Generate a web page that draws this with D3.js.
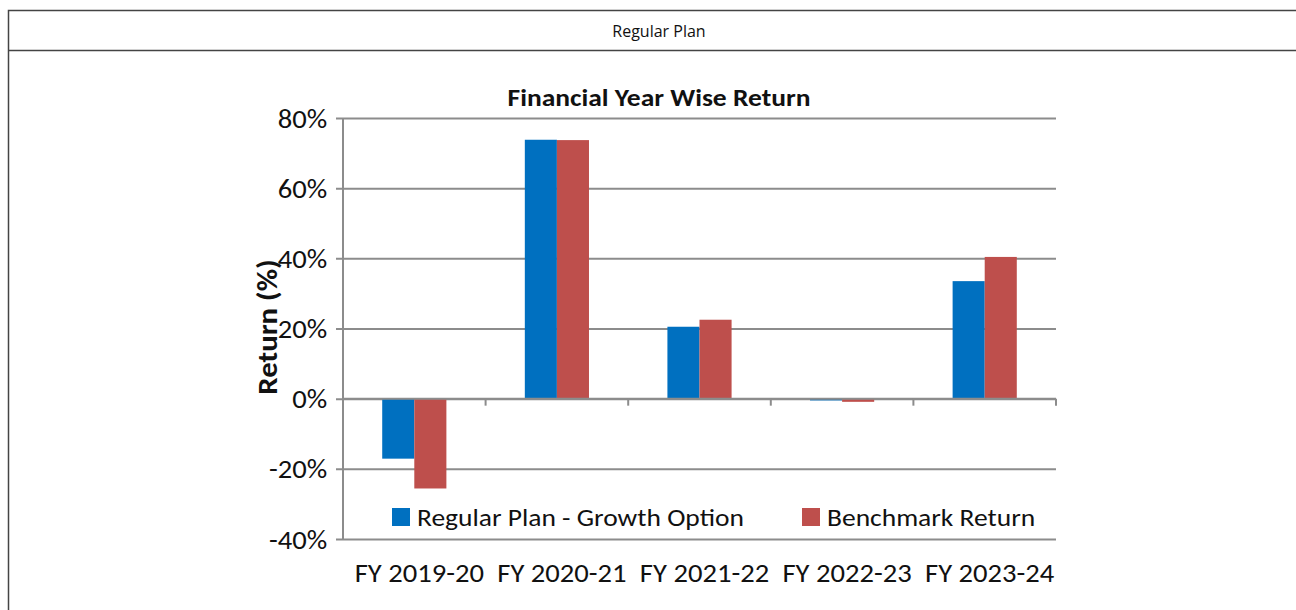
<!DOCTYPE html>
<html>
<head>
<meta charset="utf-8">
<script src="https://cdn.jsdelivr.net/npm/d3@7"></script>
<style>
	body { margin: 0; background: #fff; }
	text { font-family: Carlito, Lato, sans-serif; fill: #111; }
</style>
</head>
<body>
<div id="chart"></div>
<script>
// data
const categories = ['FY 2019-20', 'FY 2020-21', 'FY 2021-22', 'FY 2022-23', 'FY 2023-24'];
const seriesNames = ['Regular Plan - Growth Option', 'Benchmark Return'];
const planReturn = [-17.1, 73.8, 20.5, -0.5, 33.5];
const benchReturn = [-25.6, 73.7, 22.5, -0.9, 40.4];
const yTicks = [-40, -20, 0, 20, 40, 60, 80];

const colors = ['#0070c0', '#be4f4c'];
const width = 1296, height = 610;
const plot = {left: 343, right: 1056, top: 118, bottom: 539};
const sx = 1.1; // the original text is a bit wider than Lato

const svg = d3.select('#chart').append('svg')
	.attr('width', width)
	.attr('height', height);

// table-like frame around the chart
svg.append('path')
	.attr('d', `M8.5,${height} V10.5 H${width}`)
	.style('fill', 'none').style('stroke', '#444').style('stroke-width', 1.5);
svg.append('line')
	.attr('x1', 8).attr('x2', width).attr('y1', 50.5).attr('y2', 50.5)
	.style('stroke', '#444').style('stroke-width', 1.5);
svg.append('text')
	.attr('x', 659).attr('y', 37)
	.attr('text-anchor', 'middle')
	.style('font-family', '"Open Sans", sans-serif')
	.style('font-size', '16px')
	.text('Regular Plan');

const x0 = d3.scaleBand().domain(categories)
	.range([plot.left, plot.right])
	.paddingInner(0.55).paddingOuter(0.275);
const x1 = d3.scaleBand().domain(seriesNames).range([0, x0.bandwidth()]);
const y = d3.scaleLinear().domain([-40, 80]).range([plot.bottom, plot.top]);

// gridlines + y axis labels
const yAxis = d3.axisLeft(y).tickValues(yTicks).tickFormat(d => d + '%')
	.tickSize(-(plot.right - plot.left) - 7).tickPadding(6);
const gy = svg.append('g')
	.attr('transform', `translate(${plot.left - 7},0)`)
	.call(yAxis);
gy.select('.domain').remove();
gy.selectAll('.tick line').style('stroke', '#8c8c8c').style('stroke-width', 2);
gy.selectAll('.tick text')
	.style('font-size', '26px').style('fill', '#111')
	.attr('x', -8).attr('dy', '0.35em')
	.attr('transform', `scale(${sx},1)`);

svg.append('line')
	.attr('x1', plot.left).attr('x2', plot.left)
	.attr('y1', plot.top).attr('y2', plot.bottom + 1)
	.style('stroke', '#8c8c8c').style('stroke-width', 2);

// bars
const rows = categories.map((c, i) => ({cat: c, vals: [planReturn[i], benchReturn[i]]}));
const groups = svg.append('g').selectAll('g')
	.data(rows).enter().append('g')
	.attr('transform', d => `translate(${x0(d.cat)},0)`);
groups.selectAll('rect')
	.data(d => d.vals.map((v, j) => ({name: seriesNames[j], v: v, j: j})))
	.enter().append('rect')
	.attr('x', d => x1(d.name))
	.attr('width', x1.bandwidth())
	.attr('y', d => y(Math.max(0, d.v)))
	.attr('height', d => Math.abs(y(d.v) - y(0)))
	.style('fill', d => colors[d.j]);

// category axis sits on the zero line, labels below the plot
const step = x0.step();
const zeroY = y(0);
svg.append('line')
	.attr('x1', plot.left).attr('x2', plot.right)
	.attr('y1', zeroY).attr('y2', zeroY)
	.style('stroke', '#8c8c8c').style('stroke-width', 2);
svg.append('g').selectAll('line')
	.data(d3.range(1, categories.length + 1)).enter().append('line')
	.attr('x1', i => plot.left + i * step).attr('x2', i => plot.left + i * step)
	.attr('y1', zeroY).attr('y2', zeroY + 7)
	.style('stroke', '#8c8c8c').style('stroke-width', 2);
svg.append('g').selectAll('text')
	.data(categories).enter().append('text')
	.attr('transform', d => `translate(${x0(d) + x0.bandwidth() / 2 + 5},582) scale(${sx},1)`)
	.attr('text-anchor', 'middle')
	.style('font-size', '26px')
	.text(d => d);

// titles
svg.append('text')
	.attr('transform', `translate(659,106) scale(${sx},1)`)
	.attr('text-anchor', 'middle')
	.style('font-size', '25px').style('font-weight', 'bold')
	.text('Financial Year Wise Return');
svg.append('text')
	.attr('transform', `translate(277,327) rotate(-90) scale(${sx},1)`)
	.attr('text-anchor', 'middle')
	.style('font-size', '28px').style('font-weight', 'bold')
	.text('Return (%)');

// legend
const legend = svg.append('g').selectAll('g')
	.data(seriesNames).enter().append('g')
	.attr('transform', (d, i) => `translate(${[392, 802][i]},508)`);
legend.append('rect')
	.attr('width', 18).attr('height', 18)
	.style('fill', (d, i) => colors[i]);
legend.append('text')
	.attr('transform', `translate(25,18) scale(${sx},1)`)
	.style('font-size', '25px')
	.text(d => d);
</script>
</body>
</html>
